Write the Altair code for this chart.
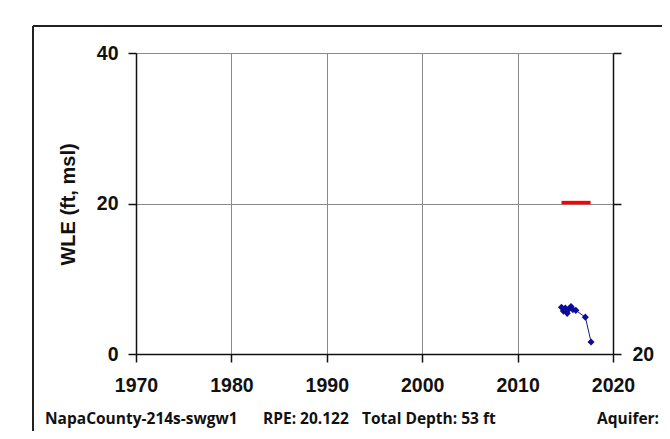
import altair as alt
import pandas as pd

# ---- data ----
obs_years = [2014.6, 2014.8, 2015.0, 2015.2, 2015.4, 2015.6, 2015.8, 2016.1, 2017.1, 2017.7]
obs_wle = [6.2, 5.7, 6.1, 5.4, 6.0, 6.3, 5.9, 5.8, 4.9, 1.6]
rpe_years = [2014.6, 2017.65]
rpe_value = 20.122
x_ticks = [1970, 1980, 1990, 2000, 2010, 2020]
y_ticks = [0, 20, 40]
depth_ticks = [-20, 0, 20]
footer_well = "NapaCounty-214s-swgw1"
footer_rpe = "RPE: 20.122"
footer_depth = "Total Depth: 53 ft"
footer_aquifer = "Aquifer: C"

obs = pd.DataFrame({"year": obs_years, "wle": obs_wle})
obs["depth"] = rpe_value - obs["wle"]
rpe = pd.DataFrame({"year": rpe_years, "wle": [rpe_value] * len(rpe_years)})

FONT = "Liberation Sans"
xscale = alt.Scale(domain=[1970, 2020], nice=False, zero=False)
yscale = alt.Scale(domain=[0, 40], nice=False)

x_axis = alt.Axis(values=x_ticks, format="d", title=None, grid=True,
                  gridColor="#8a8a8a", gridWidth=1, labelFont=FONT,
                  labelFontWeight="bold", labelFontSize=19.5, labelColor="#111",
                  labelPadding=14, tickSize=8, tickColor="#111", tickWidth=1.5,
                  domainColor="#111", domainWidth=1.5, labelFlush=False)
y_axis = alt.Axis(values=y_ticks, title="WLE (ft, msl)", grid=True,
                  gridColor="#8a8a8a", gridWidth=1, labelFont=FONT,
                  labelFontWeight="bold", labelFontSize=19.5, labelColor="#111",
                  labelPadding=10, tickSize=8, tickColor="#111", tickWidth=1.5,
                  domainColor="#111", domainWidth=1.5, titleFont=FONT,
                  titleFontWeight="bold", titleFontSize=20, titleColor="#111",
                  titleAngle=270, titleX=-68, titleY=151, titleBaseline="middle",
                  titleAlign="center", labelFlush=False)

rpe_line = alt.Chart(rpe).mark_line(color="#ff0000", strokeWidth=3.5).encode(
    x=alt.X("year:Q", scale=xscale, axis=x_axis),
    y=alt.Y("wle:Q", scale=yscale, axis=y_axis),
)
obs_line = alt.Chart(obs).mark_line(color="#1a1a80", strokeWidth=1).encode(
    x=alt.X("year:Q", scale=xscale),
    y=alt.Y("wle:Q", scale=yscale),
)
obs_pts = alt.Chart(obs).mark_point(shape="diamond", filled=True, size=50,
                                    color="#0c0c96", opacity=1).encode(
    x=alt.X("year:Q", scale=xscale),
    y=alt.Y("wle:Q", scale=yscale),
)
left = alt.layer(rpe_line, obs_line, obs_pts)

right = alt.Chart(obs).mark_point(opacity=0).encode(
    x=alt.X("year:Q", scale=xscale),
    y=alt.Y("depth:Q", scale=alt.Scale(domain=[-20, 20], reverse=True, nice=False),
            axis=alt.Axis(orient="right", values=depth_ticks, grid=False,
                          labelExpr="datum.value == 20 ? '20' : ''",
                          title="Depth to Water (feet)", labelFont=FONT,
                          labelFontWeight="bold", labelFontSize=19.5,
                          labelColor="#111", labelPadding=11, tickSize=8,
                          tickColor="#111", tickWidth=1.5, domainColor="#111",
                          domainWidth=1.5, titleFont=FONT, titleFontWeight="bold",
                          titleFontSize=20, titleColor="#111", titleAngle=270,
                          titleX=62, titleY=151, titleBaseline="middle",
                          titleAlign="center", labelFlush=False)),
)

def footer(txt, xpos):
    return alt.Chart(pd.DataFrame({"t": [txt]})).mark_text(
        align="left", baseline="middle", font="Open Sans", fontWeight="bold",
        fontSize=15.5, color="#111").encode(
        text="t:N", x=alt.value(xpos), y=alt.value(366))

frame_df = pd.DataFrame({"k": [0]})
frame_left = alt.Chart(frame_df).mark_rule(color="#222", strokeWidth=2).encode(
    x=alt.value(-103), y=alt.value(-27), y2=alt.value(420))
frame_top = alt.Chart(frame_df).mark_rule(color="#222", strokeWidth=2).encode(
    x=alt.value(-103), x2=alt.value(620), y=alt.value(-27))

chart = alt.layer(
    left, right,
    footer(footer_well, -91), footer(footer_rpe, 127),
    footer(footer_depth, 226), footer(footer_aquifer, 461),
    frame_left, frame_top,
).resolve_scale(y="independent").properties(
    width=477, height=301,
    autosize=alt.AutoSizeParams(type="none"),
    padding={"left": 128, "top": 45, "right": 49, "bottom": 77},
    background="white",
).configure_view(stroke=None)

chart.save("out.html", embed_options={"renderer": "svg", "actions": False})
